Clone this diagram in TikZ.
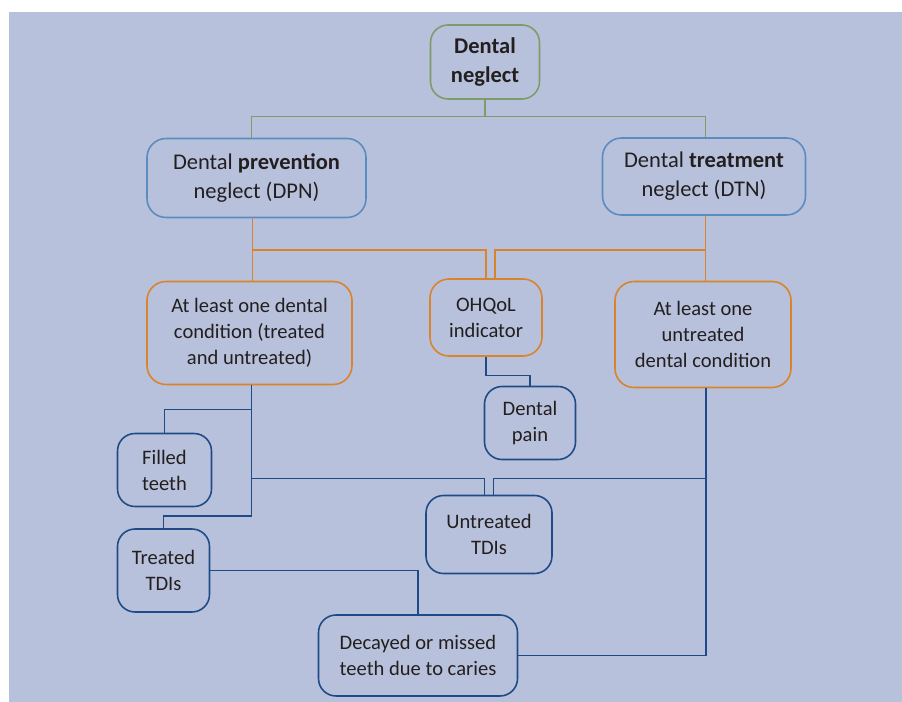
\documentclass[tikz,border=0pt]{standalone}
\usepackage{fontspec}
\setmainfont{Carlito}
\usepackage{xcolor}
\usepackage{tikz}
\usetikzlibrary{positioning,calc}

\definecolor{bgblue}{HTML}{B8C1DB}
\definecolor{txtgray}{HTML}{231F20}
\definecolor{leafgreen}{HTML}{7E9B6B}
\definecolor{skyblue}{HTML}{5A8CC0}
\definecolor{rustorange}{HTML}{D9832B}
\definecolor{navyblue}{HTML}{1E4B88}

\begin{document}
\begin{tikzpicture}[
    font=\fontsize{11.7}{14.8}\selectfont,
    text=txtgray,
    rootbox/.style={
        draw=leafgreen,
        rounded corners=3.5mm,
        line width=0.9pt,
        inner sep=0pt,
        align=center,
        font=\fontsize{12.8}{16.4}\selectfont\bfseries
    },
    kindbox/.style={
        draw=skyblue,
        rounded corners=3.8mm,
        line width=0.9pt,
        inner sep=0pt,
        align=center,
        font=\fontsize{12.8}{16.4}\selectfont
    },
    condbox/.style={
        draw=rustorange,
        rounded corners=3.8mm,
        line width=0.9pt,
        inner sep=0pt,
        align=center
    },
    leafbox/.style={
        draw=navyblue,
        rounded corners=3.5mm,
        line width=0.9pt,
        inner sep=0pt,
        align=center
    },
    gline/.style={draw=leafgreen, line width=0.75pt},
    oline/.style={draw=rustorange, line width=0.75pt},
    bline/.style={draw=navyblue, line width=0.75pt}
]

\useasboundingbox (0,0) rectangle (18.04,-14.04);
\fill[bgblue] (0.18,-0.24) rectangle (18.04,-14.04);

% first row
\node[rootbox, minimum width=2.18cm, minimum height=1.48cm] (neglect) at (9.70,-1.24)
{Dental\\neglect};

% second row
\node[kindbox, minimum width=4.38cm, minimum height=1.58cm] (dpn) at (5.13,-3.56)
{Dental \textbf{prevention}\\neglect (DPN)};

\node[kindbox, minimum width=4.06cm, minimum height=1.54cm] (dtn) at (14.08,-3.53)
{Dental \textbf{treatment}\\neglect (DTN)};

% third row
\node[condbox, minimum width=4.10cm, minimum height=2.06cm] (anycond) at (4.99,-6.66)
{At least one dental\\condition (treated\\and untreated)};

\node[condbox, minimum width=2.24cm, minimum height=1.54cm] (ohqol) at (9.72,-6.35)
{OHQoL\\indicator};

\node[condbox, minimum width=3.52cm, minimum height=2.12cm] (untrcond) at (14.06,-6.69)
{At least one\\untreated\\dental condition};

% leaves
\node[leafbox, minimum width=1.82cm, minimum height=1.46cm] (pain) at (10.60,-8.46)
{Dental\\pain};

\node[leafbox, minimum width=1.88cm, minimum height=1.46cm] (filled) at (3.29,-9.40)
{Filled\\teeth};

\node[leafbox, minimum width=2.52cm, minimum height=1.56cm] (untrtdi) at (9.78,-10.69)
{Untreated\\TDIs};

\node[leafbox, minimum width=1.84cm, minimum height=1.66cm] (treated) at (3.27,-11.41)
{Treated\\TDIs};

\node[leafbox, minimum width=3.98cm, minimum height=1.62cm] (decayed) at (8.36,-13.11)
{Decayed or missed\\teeth due to caries};

% junctions
\coordinate (gl) at (5.03,-2.33);
\coordinate (gr) at (14.11,-2.33);
\coordinate (ol) at (5.05,-5.00);
\coordinate (or) at (14.11,-5.00);
\coordinate (bl) at (5.03,-9.57);
\coordinate (br) at (14.12,-9.57);

% green links
\draw[gline] (neglect.south) -- (neglect.south |- gl);
\draw[gline] (dpn.north -| gl) -- (gl) -- (gr) -- (dtn.north -| gr);

% orange links
\draw[oline] (dpn.south -| ol) -- (anycond.north -| ol);
\draw[oline] (ol) -| (ohqol.north);
\draw[oline] (dtn.south -| or) -- (untrcond.north -| or);
\draw[oline] (or) -| ([xshift=0.18cm]ohqol.north);

% blue links
\draw[bline] (ohqol.south) -- ++(0,-0.37) -| (pain.north);
\draw[bline] (anycond.south -| bl) -- ($(bl)+(0,-0.75)$) -| (treated.north);
\draw[bline] ($(bl)+(0,1.38)$) -| (filled.north);
\draw[bline] (bl) -| ([xshift=-0.09cm]untrtdi.north);
\draw[bline] (br) -| ([xshift=0.09cm]untrtdi.north);
\draw[bline] (untrcond.south -| br) |- (decayed.east);
\draw[bline] (treated.east) -| (decayed.north);

\end{tikzpicture}
\end{document}
